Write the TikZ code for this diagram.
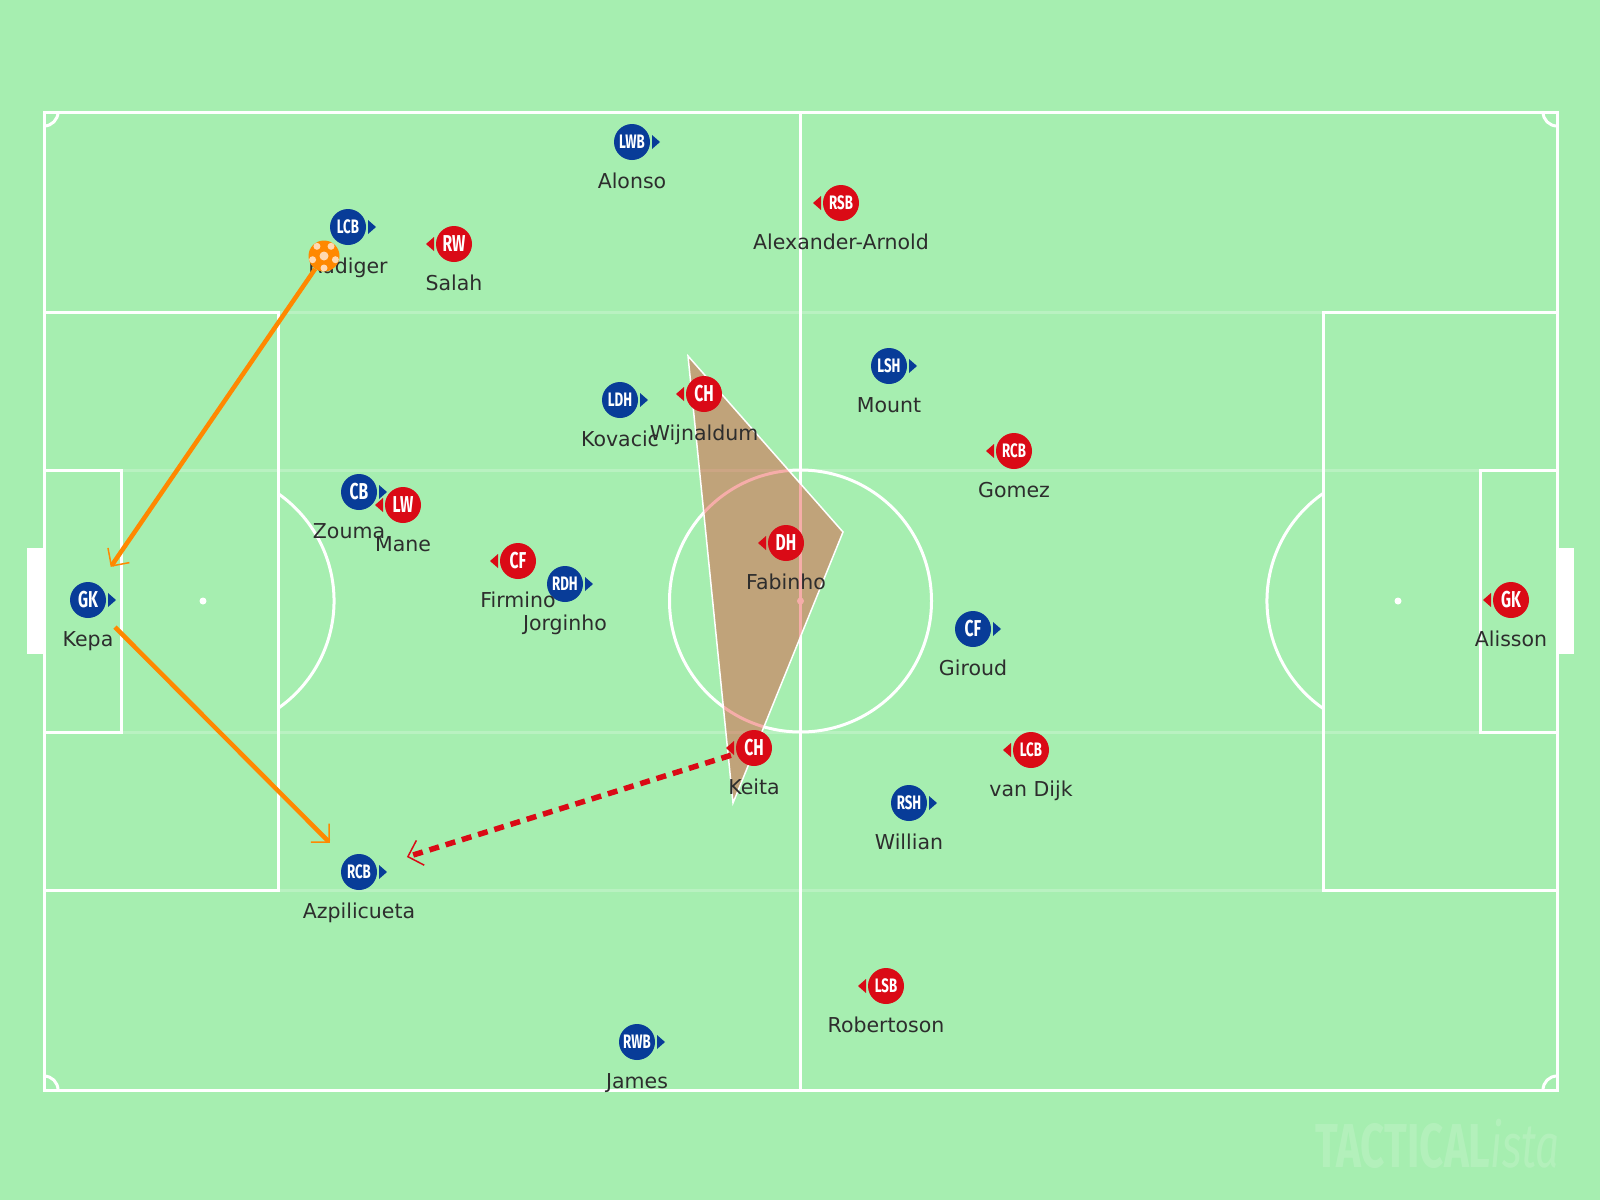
\documentclass[tikz,border=0pt]{standalone}
\usepackage{fontspec}
\usetikzlibrary{positioning,arrows.meta}
\newfontfamily\namefamily{DejaVu Sans}
\newfontfamily\codefamily{Fira Sans}[FakeStretch=0.68]
\newcommand{\namefont}{\namefamily\fontsize{20.5}{24}\selectfont}
\newcommand{\codefont}{\codefamily\bfseries\fontsize{23}{23}\selectfont}
\newcommand{\codesmallfont}{\codefamily\bfseries\fontsize{19.5}{19.5}\selectfont}
\newcommand{\markfont}{\codefamily\bfseries\fontsize{62}{62}\selectfont}
\definecolor{grass}{RGB}{166,238,176}
\definecolor{homeblue}{RGB}{8,60,152}
\definecolor{awayred}{RGB}{218,10,22}
\definecolor{passorange}{RGB}{255,136,0}
\definecolor{zonered}{RGB}{233,52,41}
\definecolor{namegray}{RGB}{45,45,45}
\tikzset{
    pitch/board/.style={x=1pt, y=-1pt},
    pitch/line/.style={draw=white, line width=3pt},
    pitch/guide/.style={draw=white, draw opacity=0.22, line width=3pt},
    pitch/zone/.style={fill=zonered, fill opacity=0.4, draw=white, line width=1.5pt},
    pitch/home/.style={circle, fill=homeblue, text=white, font=\codefont, minimum size=36pt, inner sep=0pt},
    pitch/away/.style={pitch/home, fill=awayred},
    pitch/wide/.style={font=\codesmallfont},
    pitch/name/.style={font=\namefont, text=namegray, inner sep=0pt, text height=15pt, text depth=5pt},
    pitch/ball/.style={circle, fill=passorange, minimum size=31pt, inner sep=0pt},
    pitch/barb/.style={-{Straight Barb[length=13pt, width=26pt, line width=1.5pt 0, sep=8pt]}},
    pitch/pass/.style={pitch/barb, draw=passorange, line width=4.5pt},
    pitch/run/.style={pitch/barb, draw=awayred, line width=5.5pt, dash pattern=on 10pt off 7pt},
    pitch/mark/.style={font=\markfont, text=white, text opacity=0.15, inner sep=0pt}
}

\begin{document}
\begin{tikzpicture}[pitch/board]
    % pitch
    \fill[grass] (0,0) rectangle (1600,1200);
    \useasboundingbox (0,0) rectangle (1600,1200);
    \fill[white] (27,548) rectangle (44,654);
    \fill[white] (1557,548) rectangle (1574,654);
    \foreach \y in {312,470,732,890}
        \draw[pitch/guide] (44,\y) -- (1557,\y);
    \draw[pitch/line] (44,112) rectangle (1557,1090);
    \draw[pitch/line] (800.5,112) -- (800.5,1090);
    \draw[pitch/line] (800.5,601) circle (131);
    \draw[pitch/line] (44,312) rectangle (278,890);
    \draw[pitch/line] (1557,312) rectangle (1323,890);
    \draw[pitch/line] (44,470) rectangle (121,732);
    \draw[pitch/line] (1557,470) rectangle (1480,732);
    \draw[pitch/line] (278,493.5) arc[start angle=-55.1, end angle=55.1, radius=131];
    \draw[pitch/line] (1323,493.5) arc[start angle=235.1, end angle=124.9, radius=131];
    \draw[pitch/line] (58,112) arc[start angle=0, end angle=90, radius=14];
    \draw[pitch/line] (1557,126) arc[start angle=90, end angle=180, radius=14];
    \draw[pitch/line] (1543,1090) arc[start angle=180, end angle=270, radius=14];
    \draw[pitch/line] (44,1076) arc[start angle=270, end angle=360, radius=14];
    \foreach \x in {203,800.5,1398}
        \fill[white] (\x,601) circle (3.5);
    \draw[pitch/zone] (688,356) -- (843,532) -- (733,803) -- cycle;

    % players
    \node[pitch/home] (kepa) at (88,600) {GK};
    \node[pitch/home, pitch/wide] (rudiger) at (348,227) {LCB};
    \node[pitch/home, pitch/wide] (alonso) at (632,142) {LWB};
    \node[pitch/home, pitch/wide] (kovacic) at (620,400) {LDH};
    \node[pitch/home, pitch/wide] (mount) at (889,366) {LSH};
    \node[pitch/home] (zouma) at (359,492) {CB};
    \node[pitch/home, pitch/wide] (jorginho) at (565,584) {RDH};
    \node[pitch/home] (giroud) at (973,629) {CF};
    \node[pitch/home, pitch/wide] (willian) at (909,803) {RSH};
    \node[pitch/home, pitch/wide] (azpilicueta) at (359,872) {RCB};
    \node[pitch/home, pitch/wide] (james) at (637,1042) {RWB};
    \node[pitch/away] (alisson) at (1511,600) {GK};
    \node[pitch/away, pitch/wide] (arnold) at (841,203) {RSB};
    \node[pitch/away] (salah) at (454,244) {RW};
    \node[pitch/away] (wijnaldum) at (704,394) {CH};
    \node[pitch/away, pitch/wide] (gomez) at (1014,451) {RCB};
    \node[pitch/away] (mane) at (403,505) {LW};
    \node[pitch/away] (fabinho) at (786,543) {DH};
    \node[pitch/away] (firmino) at (518,561) {CF};
    \node[pitch/away] (keita) at (754,748) {CH};
    \node[pitch/away, pitch/wide] (vandijk) at (1031,750) {LCB};
    \node[pitch/away, pitch/wide] (robertson) at (886,986) {LSB};
    \foreach \p in {kepa,rudiger,alonso,kovacic,mount,zouma,jorginho,giroud,willian,azpilicueta,james}
        \fill[homeblue] (\p.center) ++(20,-7) -- ++(8,7) -- ++(-8,7) -- cycle;
    \foreach \p in {alisson,arnold,salah,wijnaldum,gomez,mane,fabinho,firmino,keita,vandijk,robertson}
        \fill[awayred] (\p.center) ++(-20,-7) -- ++(-8,7) -- ++(8,7) -- cycle;
    \foreach \p/\t in {kepa/Kepa,rudiger/Rüdiger,alonso/Alonso,kovacic/Kovacic,mount/Mount,jorginho/Jorginho,giroud/Giroud,willian/Willian,azpilicueta/Azpilicueta,james/James,alisson/Alisson,arnold/Alexander-Arnold,salah/Salah,wijnaldum/Wijnaldum,gomez/Gomez,mane/Mane,fabinho/Fabinho,firmino/Firmino,keita/Keita,vandijk/van Dijk,robertson/Robertoson}
        \node[pitch/name, below=13pt of \p] (\p-name) {\t};
    \node[pitch/name, below=13pt of zouma, xshift=-10pt] (zouma-name) {Zouma};

    % passes
    \node[pitch/ball, path picture={
        \fill[orange!30!white] (path picture bounding box.center) circle (4.5pt);
        \foreach \a in {-90,-18,54,126,198}
            \fill[orange!30!white] (path picture bounding box.center) ++(\a:12pt) circle (3.5pt);}] (ball) at (324,256) {};
    \draw[pitch/pass, shorten >=14pt] (ball) -- (kepa);
    \draw[pitch/pass, shorten <=20pt, shorten >=15pt] (kepa) -- (azpilicueta);
    \draw[pitch/run, shorten <=6pt, shorten >=24pt] (keita) -- (azpilicueta);

    \node[pitch/mark, anchor=base east] (mark) at (1560,1167) {TACTICAL{\mdseries\itshape ista}};
\end{tikzpicture}
\end{document}
